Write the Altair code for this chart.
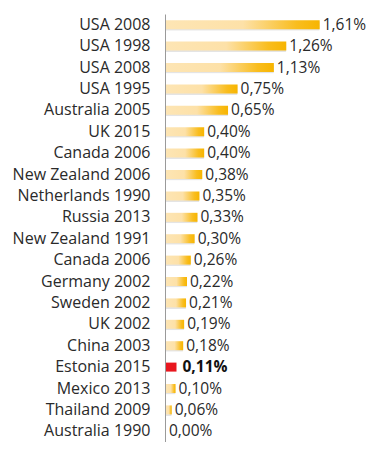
import altair as alt
import pandas as pd

names = ["USA 2008", "USA 1998", "USA 2008", "USA 1995", "Australia 2005", "UK 2015",
         "Canada 2006", "New Zealand 2006", "Netherlands 1990", "Russia 2013",
         "New Zealand 1991", "Canada 2006", "Germany 2002", "Sweden 2002", "UK 2002",
         "China 2003", "Estonia 2015", "Mexico 2013", "Thailand 2009", "Australia 1990"]
values = [1.61, 1.26, 1.13, 0.75, 0.65, 0.40, 0.40, 0.38, 0.35, 0.33,
          0.30, 0.26, 0.22, 0.21, 0.19, 0.18, 0.11, 0.10, 0.06, 0.00]
highlight = "Estonia 2015"

df = pd.DataFrame({
    "rank": list(range(len(names))),
    "name": names,
    "value": values,
})
df["label"] = df["value"].map(lambda v: f"{v:.2f}".replace(".", ",") + "%")
df["hl"] = df["name"] == highlight

names_js = "[" + ",".join("'" + n + "'" for n in names) + "]"

x = alt.X("value:Q", scale=alt.Scale(domain=[0, 2.2], range=[1, 211]), axis=None)
y = alt.Y("rank:O", scale=alt.Scale(paddingInner=0.58, paddingOuter=0.29),
          axis=alt.Axis(title=None, labelExpr=names_js + "[datum.value]",
                        ticks=False, domain=True, domainColor="#9a9a9a", domainWidth=1,
                        labelFont="Open Sans", labelFontSize=16, labelColor="#2a2a2a",
                        labelPadding=15, grid=False))

base = alt.Chart(df)

shadow = base.transform_filter("!datum.hl").mark_bar(
    color="#d8d8d8", opacity=0.7, yOffset=1.5, cornerRadiusEnd=1
).encode(x=x, y=y)

grad = alt.Gradient(
    gradient="linear", x1=0, x2=1, y1=0, y2=0,
    stops=[alt.GradientStop(offset=0, color="#fde5b4"),
           alt.GradientStop(offset=0.5, color="#fde1a8"),
           alt.GradientStop(offset=0.85, color="#f9bd1e"),
           alt.GradientStop(offset=1, color="#f7b500")])

bars = base.transform_filter("!datum.hl").mark_bar(color=grad).encode(x=x, y=y)

red = base.transform_filter("datum.hl").mark_bar(color="#e8161e").encode(x=x, y=y)

text = base.transform_filter("!datum.hl").mark_text(
    align="left", baseline="middle", dx=3, font="Open Sans",
    fontSize=15.5, color="#2a2a2a").encode(x=x, y=y, text="label:N")

text_hl = base.transform_filter("datum.hl").mark_text(
    align="left", baseline="middle", dx=6, font="Open Sans", fontWeight="bold",
    fontSize=15.5, color="#111111").encode(x=x, y=y, text="label:N")

chart = (shadow + bars + red + text + text_hl).properties(
    width=202, height=428,
    autosize=alt.AutoSizeParams(type="none"),
    padding={"left": 157, "top": 6, "right": 0, "bottom": 0},
).configure_view(stroke=None)

chart.save("out.html", embed_options={"renderer": "svg", "actions": False})
